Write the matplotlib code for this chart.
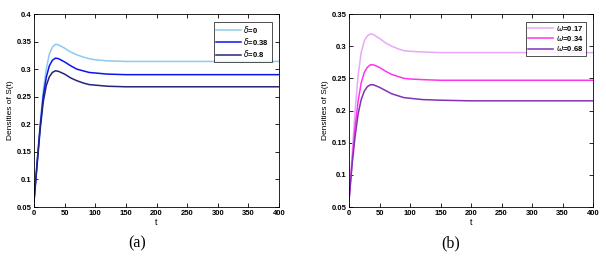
import matplotlib
matplotlib.use("Agg")
import matplotlib.pyplot as plt

plt.rcParams['font.family'] = ['Liberation Sans', 'DejaVu Sans']

t = [0, 5, 10, 15, 20, 25, 30, 35, 40, 50, 60, 70, 80, 90, 100, 120, 150, 200, 250, 300, 400]

# Panel (a): delta
a_labels = [r'$\delta$=0', r'$\delta$=0.38', r'$\delta$=0.8']
a_d0 = [0.06, 0.13, 0.20, 0.26, 0.300, 0.327, 0.340, 0.345, 0.344, 0.338, 0.331, 0.326, 0.322, 0.319, 0.317, 0.315, 0.314, 0.314, 0.314, 0.314, 0.314]
a_d1 = [0.06, 0.13, 0.195, 0.25, 0.285, 0.306, 0.316, 0.320, 0.319, 0.313, 0.306, 0.300, 0.297, 0.294, 0.293, 0.291, 0.290, 0.290, 0.290, 0.290, 0.290]
a_d2 = [0.06, 0.125, 0.19, 0.24, 0.270, 0.286, 0.294, 0.297, 0.296, 0.291, 0.284, 0.279, 0.275, 0.272, 0.271, 0.269, 0.268, 0.268, 0.268, 0.268, 0.268]
a_colors = ['#8ccbf0', '#0a14f0', '#24247a']

# Panel (b): omega
b_labels = [r'$\omega$=0.17', r'$\omega$=0.34', r'$\omega$=0.68']
b_w0 = [0.06, 0.13, 0.20, 0.255, 0.290, 0.308, 0.316, 0.319, 0.318, 0.312, 0.305, 0.300, 0.296, 0.293, 0.292, 0.291, 0.290, 0.290, 0.290, 0.290, 0.290]
b_w1 = [0.06, 0.12, 0.175, 0.215, 0.243, 0.259, 0.267, 0.271, 0.271, 0.267, 0.261, 0.256, 0.253, 0.250, 0.249, 0.248, 0.247, 0.247, 0.247, 0.247, 0.247]
b_w2 = [0.06, 0.115, 0.16, 0.195, 0.217, 0.230, 0.237, 0.240, 0.240, 0.236, 0.231, 0.226, 0.223, 0.220, 0.219, 0.217, 0.216, 0.215, 0.215, 0.215, 0.215]
b_colors = ['#e8a8f8', '#ff33ee', '#8232b4']

fig = plt.figure(figsize=(6.06, 2.57), dpi=100)
W, H = 606, 257
axa = fig.add_axes([34/W, 1-207/H, (279-34)/W, (207-14)/H])
axb = fig.add_axes([349/W, 1-207/H, (593-349)/W, (207-14)/H])

def style(ax, ylim, yticks):
    ax.set_xlim(0, 400)
    ax.set_ylim(*ylim)
    ax.set_xticks(range(0, 401, 50))
    ax.set_yticks(yticks)
    ax.set_yticklabels([('%g' % v) for v in yticks])
    ax.tick_params(direction='in', top=True, right=True, labelsize=5.5, length=3, width=0.6, pad=2)
    for lab in ax.get_xticklabels() + ax.get_yticklabels():
        lab.set_fontweight('bold')
    for s in ax.spines.values():
        s.set_linewidth(0.6)
    ax.set_xlabel('t', fontsize=6.5, labelpad=1)
    ax.set_ylabel('Densities of S(t)', fontsize=6, labelpad=2)

def legend(ax):
    leg = ax.legend(loc='upper right', prop={'size': 5.5, 'weight': 'bold'}, frameon=True,
                    fancybox=False, edgecolor='black', borderpad=0.3, labelspacing=0.15,
                    handlelength=3.3, handletextpad=0.3, bbox_to_anchor=(0.985, 0.98))
    leg.get_frame().set_linewidth(0.6)

for ys, c, l in zip([a_d0, a_d1, a_d2], a_colors, a_labels):
    axa.plot(t, ys, color=c, lw=1.1, label=l)
style(axa, (0.05, 0.4), [0.05, 0.1, 0.15, 0.2, 0.25, 0.3, 0.35, 0.4])
legend(axa)

for ys, c, l in zip([b_w0, b_w1, b_w2], b_colors, b_labels):
    axb.plot(t, ys, color=c, lw=1.1, label=l)
style(axb, (0.05, 0.35), [0.05, 0.1, 0.15, 0.2, 0.25, 0.3, 0.35])
legend(axb)

fig.text(137/W, 1-243/H, '(a)', fontsize=11.5, family=['Liberation Serif'], ha='center', va='center')
fig.text(451/W, 1-243/H, '(b)', fontsize=11.5, family=['Liberation Serif'], ha='center', va='center')

fig.savefig('out.png', dpi=100)
